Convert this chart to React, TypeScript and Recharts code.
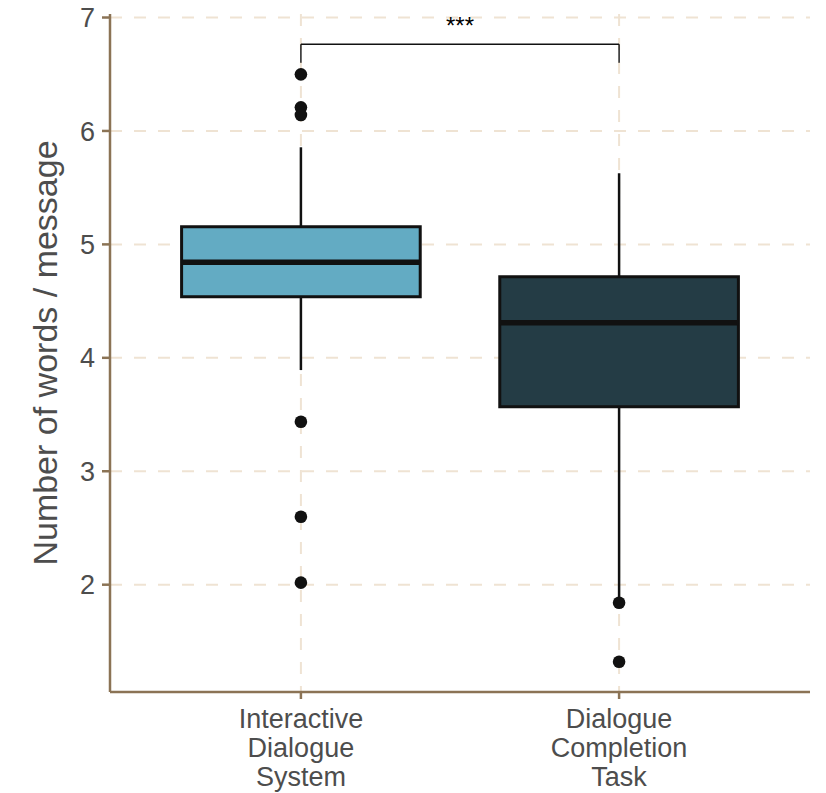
import {
  ComposedChart,
  CartesianGrid,
  ReferenceArea,
  ReferenceLine,
  Scatter,
  XAxis,
  YAxis
} from "recharts";

const categories = [
  ["Interactive", "Dialogue", "System"],
  ["Dialogue", "Completion", "Task"]
];
const positions = [1, 2];
const lowerWhisker = [3.892, 1.865];
const q1 = [4.539, 3.569];
const median = [4.842, 4.31];
const q3 = [5.156, 4.715];
const upperWhisker = [5.856, 5.627];
const outliersA = [6.499, 6.208, 6.141, 3.437, 2.599, 2.018];
const outliersB = [1.841, 1.321];
const yTicks = [2, 3, 4, 5, 6, 7];
const bracketY = 6.764;
const bracketTipY = 6.602;
const significance = "***";

const boxFills = ["#63abc3", "#243c45"];
const brown = "#8b7355";
const ink = "#111111";
const textGrey = "#4d4d4d";
const BOX_HALF = 0.375;

const outlierPoints = [
  ...outliersA.map((y) => ({ x: positions[0], y })),
  ...outliersB.map((y) => ({ x: positions[1], y }))
];

function CategoryTick(props: any) {
  const { x, y, payload } = props;
  const idx = positions.indexOf(payload.value);
  const lines = idx >= 0 ? categories[idx] : [];
  return (
    <text x={x} y={y} textAnchor="middle" fill={textGrey} fontSize={27}>
      {lines.map((line, i) => (
        <tspan key={line} x={x} y={y + 27 + i * 29}>
          {line}
        </tspan>
      ))}
    </text>
  );
}

export default function App() {
  return (
    <div style={{ fontFamily: "Liberation Sans, Arial, sans-serif" }}>
      <style>{"body{margin:0}"}</style>
      <ComposedChart
        width={826}
        height={793}
        margin={{ top: 14, right: 16, bottom: 0, left: 0 }}
      >
        <CartesianGrid
          stroke="#efe3d3"
          strokeWidth={2}
          strokeDasharray="12 12"
          horizontalValues={yTicks}
          verticalValues={positions}
        />
        <XAxis
          type="number"
          dataKey="x"
          domain={[0.4, 2.6]}
          ticks={positions}
          height={101}
          tick={<CategoryTick />}
          tickSize={7}
          tickLine={{ stroke: brown, strokeWidth: 2.5 }}
          axisLine={{ stroke: brown, strokeWidth: 2.5 }}
          allowDataOverflow
        />
        <YAxis
          type="number"
          dataKey="y"
          domain={[1.054, 7.031]}
          ticks={yTicks}
          width={110}
          tickSize={8}
          tickMargin={7}
          tick={{ fill: textGrey, fontSize: 27 }}
          tickLine={{ stroke: brown, strokeWidth: 2.5 }}
          axisLine={{ stroke: brown, strokeWidth: 2.5 }}
          allowDataOverflow
          label={{
            value: "Number of words / message",
            angle: -90,
            position: "center",
            dx: -10,
            fill: textGrey,
            fontSize: 34
          }}
        />
        {positions.map((p, i) => (
          <ReferenceLine
            key={`wu${i}`}
            segment={[
              { x: p, y: q3[i] },
              { x: p, y: upperWhisker[i] }
            ]}
            stroke={ink}
            strokeWidth={2.5}
          />
        ))}
        {positions.map((p, i) => (
          <ReferenceLine
            key={`wl${i}`}
            segment={[
              { x: p, y: lowerWhisker[i] },
              { x: p, y: q1[i] }
            ]}
            stroke={ink}
            strokeWidth={2.5}
          />
        ))}
        {positions.map((p, i) => (
          <ReferenceArea
            key={`box${i}`}
            x1={p - BOX_HALF}
            x2={p + BOX_HALF}
            y1={q1[i]}
            y2={q3[i]}
            fill={boxFills[i]}
            fillOpacity={1}
            stroke={ink}
            strokeWidth={3}
          />
        ))}
        {positions.map((p, i) => (
          <ReferenceLine
            key={`med${i}`}
            segment={[
              { x: p - BOX_HALF, y: median[i] },
              { x: p + BOX_HALF, y: median[i] }
            ]}
            stroke={ink}
            strokeWidth={5.5}
          />
        ))}
        <ReferenceLine
          segment={[
            { x: positions[0], y: bracketTipY },
            { x: positions[0], y: bracketY }
          ]}
          stroke={ink}
          strokeWidth={1.4}
        />
        <ReferenceLine
          segment={[
            { x: positions[1], y: bracketTipY },
            { x: positions[1], y: bracketY }
          ]}
          stroke={ink}
          strokeWidth={1.4}
        />
        <ReferenceLine
          segment={[
            { x: positions[0], y: bracketY },
            { x: positions[1], y: bracketY }
          ]}
          stroke={ink}
          strokeWidth={1.4}
          label={{
            value: significance,
            position: "top",
            offset: 10,
            fill: "#000",
            fontSize: 24
          }}
        />
        <Scatter
          data={outlierPoints}
          dataKey="y"
          fill={ink}
          isAnimationActive={false}
          shape={(props: any) => (
            <circle cx={props.cx} cy={props.cy} r={6.3} fill={ink} />
          )}
        />
      </ComposedChart>
    </div>
  );
}
